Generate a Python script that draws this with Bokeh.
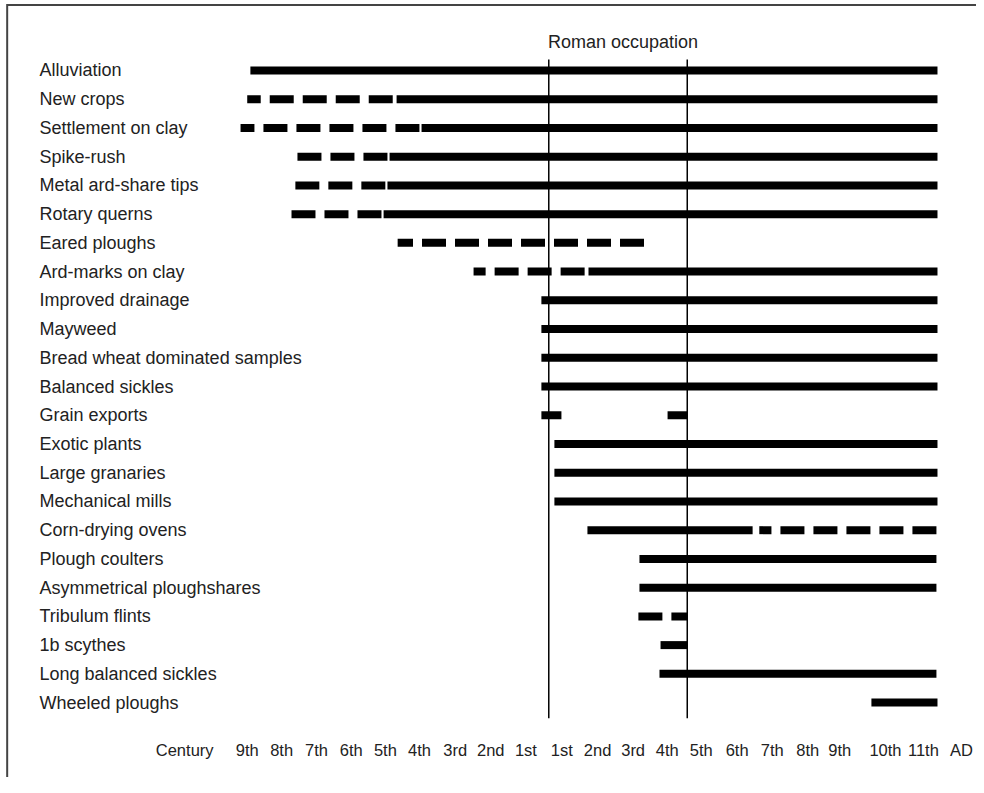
from bokeh.plotting import figure
from bokeh.models import Range1d
from bokeh.core.properties import value
from bokeh.embed import file_html
from bokeh.resources import INLINE

# ---------------- data ----------------
# rows, top to bottom
rows = ["Alluviation", "New crops", "Settlement on clay", "Spike-rush",
        "Metal ard-share tips", "Rotary querns", "Eared ploughs",
        "Ard-marks on clay", "Improved drainage", "Mayweed",
        "Bread wheat dominated samples", "Balanced sickles", "Grain exports",
        "Exotic plants", "Large granaries", "Mechanical mills",
        "Corn-drying ovens", "Plough coulters", "Asymmetrical ploughshares",
        "Tribulum flints", "1b scythes", "Long balanced sickles",
        "Wheeled ploughs"]

# solid bars (attested): row index, start year, end year (BC negative)
solid_row = [0, 1, 2, 3, 4, 5, 7, 8, 9, 10, 11, 12, 12, 13, 14, 15, 16, 17, 18, 20, 21, 22]
solid_start = [-839, -423, -352, -443, -449, -460, 123, -11, -11, -11, -11, -11, 348,
               26, 26, 26, 120, 268, 268, 328, 325, 928]
solid_end = [1116, 1116, 1116, 1116, 1116, 1116, 1116, 1116, 1116, 1116, 1116, 46, 404,
             1116, 1116, 1116, 590, 1113, 1113, 404, 1113, 1116]

# dashed bars (uncertain): row index, years (listed in the direction the dash runs)
dash_row = [1, 2, 3, 4, 5, 6, 7, 16, 19]
dash_from = [-434, -358, -449, -455, -466, 281, 112, 1113, 265]
dash_to = [-848, -867, -706, -711, -722, -420, -204, 609, 404]

# century labels and where they sit along the time axis (years, BC negative)
century_ticks = [-848, -750, -651, -552, -455, -358, -256, -155, -55,
                 47, 149, 250, 347, 444, 546, 646, 747, 838, 968, 1076]
century_labels = ["9th", "8th", "7th", "6th", "5th", "4th", "3rd", "2nd", "1st",
                  "1st", "2nd", "3rd", "4th", "5th", "6th", "7th", "8th", "9th", "10th", "11th"]
axis_end_ticks = [-1026, 1184]
axis_end_labels = ["Century", "AD"]

roman_start = 10
roman_end = 404
roman_label = "Roman occupation"

# ---------------- layout ----------------
W, H = 976, 777
FONT = value("Liberation Sans")
TXT = "#222222"

X0, X1 = -1550, 1227
Y_BOTTOM, Y_TOP = 24.608, -2.436
x_range = Range1d(X0, X1)
y_range = Range1d(Y_BOTTOM, Y_TOP)

p = figure(width=W, height=H, x_range=x_range, y_range=y_range,
           output_backend="svg", toolbar_location=None,
           x_axis_location=None, y_axis_location=None,
           min_border=0, min_border_left=0, min_border_right=0,
           min_border_top=0, min_border_bottom=0, title=None)
p.grid.visible = False
p.outline_line_color = None
p.background_fill_color = "white"
p.border_fill_color = "white"

# frame border (left and top edges of the box)
BX, BY = -1531, -2.28
p.line(x=[BX, BX, X1], y=[Y_BOTTOM, BY, BY], line_color="#444444", line_width=2,
       line_join="miter")

# Roman occupation lines
ROMAN_TOP, ROMAN_BOTTOM = -0.38, 22.55
p.segment(x0=[roman_start, roman_end], y0=[ROMAN_TOP, ROMAN_TOP],
          x1=[roman_start, roman_end], y1=[ROMAN_BOTTOM, ROMAN_BOTTOM],
          line_color="black", line_width=1.5)
p.text(x=[(roman_start + roman_end) / 2], y=[-1.0], text=[roman_label],
       text_font=FONT, text_font_size="18px", text_align="center",
       text_baseline="middle", text_color=TXT, x_offset=5)

# bars
p.segment(x0=solid_start, y0=solid_row, x1=solid_end, y1=solid_row,
          line_color="black", line_width=8, line_cap="butt")
p.segment(x0=dash_from, y0=dash_row, x1=dash_to, y1=dash_row,
          line_color="black", line_width=8, line_cap="butt", line_dash="24 9")

# row labels
LABEL_X = -1439
p.text(x=[LABEL_X] * len(rows), y=list(range(len(rows))), text=rows,
       text_font=FONT, text_font_size="18px", text_align="left",
       text_baseline="middle", text_color=TXT)

# century labels
TICK_Y = 23.66
p.text(x=century_ticks, y=[TICK_Y] * len(century_ticks), text=century_labels,
       text_font=FONT, text_font_size="16.5px", text_align="center",
       text_baseline="middle", text_color=TXT)
p.text(x=axis_end_ticks, y=[TICK_Y, TICK_Y], text=axis_end_labels,
       text_font=FONT, text_font_size="16.5px", text_align="center",
       text_baseline="middle", text_color=TXT)

open("out.html", "w").write(file_html(p, INLINE))
